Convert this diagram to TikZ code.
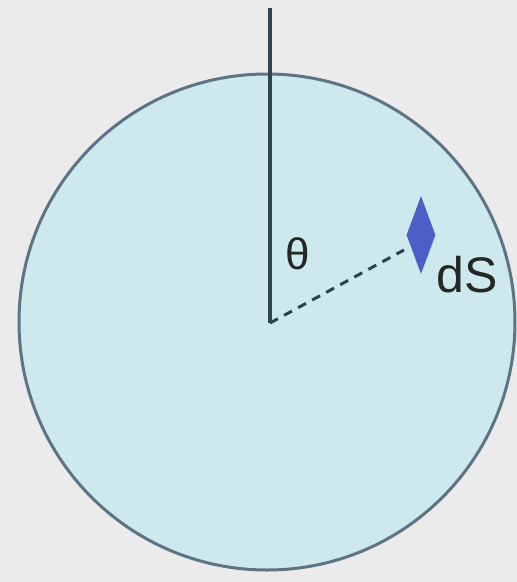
\documentclass[tikz,border=0pt]{standalone}
\usepackage{fontspec}
\setmainfont{Liberation Sans}
\usetikzlibrary{shapes.geometric}
\definecolor{bg}{HTML}{EBEBEB}
\definecolor{disk}{HTML}{CDE9EE}
\definecolor{rim}{HTML}{5E7384}
\definecolor{axis}{HTML}{2E434E}
\definecolor{patch}{HTML}{4B5FC6}
\begin{document}
\begin{tikzpicture}[x=1pt,y=-1pt,
  lbl/.style={inner sep=0pt, text=black!85, font=\fontsize{50}{50}\selectfont},
  patchshape/.style={diamond, fill=patch, draw=none, minimum width=29pt, minimum height=78pt, inner sep=0pt, aspect=0.37}]
\fill[bg] (0,0) rectangle (517,582);
\useasboundingbox (0,0) rectangle (517,582);
\node[circle, fill=disk, draw=rim, line width=3pt, minimum size=496pt, inner sep=0pt] (disk) at (267,322) {};
\coordinate (top) at (270,8);
\coordinate (o) at (270,323);
\node[patchshape] (ds) at (421,235) {};
\coordinate (dend) at (404,250);
\draw[axis, line width=4pt] (top) -- (o);
\draw[axis, line width=3pt, dash pattern=on 9pt off 7pt] (o) -- (dend);
\node[lbl, font=\fontsize{44}{44}\selectfont] (theta) at (298,254) {θ};
\node[lbl, anchor=base west] (dslbl) at (436,292) {dS};
\end{tikzpicture}
\end{document}
